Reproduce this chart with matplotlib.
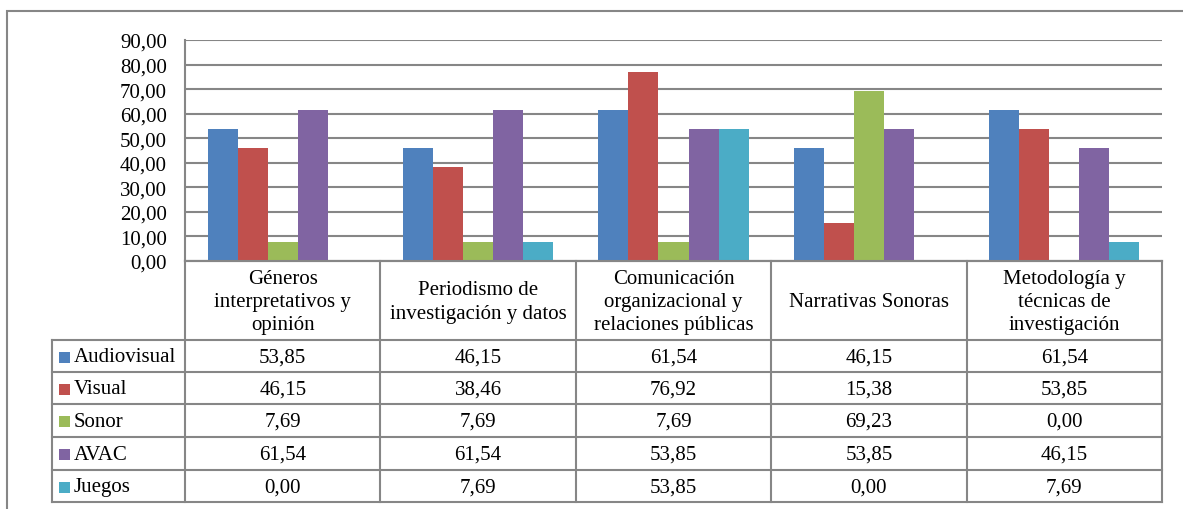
import matplotlib
matplotlib.use("Agg")
import matplotlib.pyplot as plt
from matplotlib.lines import Line2D
from matplotlib.patches import Rectangle
import numpy as np

categories = ["Géneros\ninterpretativos y\nopinión",
              "Periodismo de\ninvestigación y datos",
              "Comunicación\norganizacional y\nrelaciones públicas",
              "Narrativas Sonoras",
              "Metodología y\ntécnicas de\ninvestigación"]
series_names = ["Audiovisual", "Visual", "Sonor", "AVAC", "Juegos"]
audiovisual = [53.85, 46.15, 61.54, 46.15, 61.54]
visual = [46.15, 38.46, 76.92, 15.38, 53.85]
sonor = [7.69, 7.69, 7.69, 69.23, 0.00]
avac = [61.54, 61.54, 53.85, 53.85, 46.15]
juegos = [0.00, 7.69, 53.85, 0.00, 7.69]
series_values = [audiovisual, visual, sonor, avac, juegos]
colors = ["#4F81BD", "#C0504D", "#9BBB59", "#8064A2", "#4BACC6"]

plt.rcParams['font.family'] = ['Liberation Serif', 'DejaVu Serif']
FS = 15
GRID = "#868686"

W, H = 1183, 510
fig = plt.figure(figsize=(W / 100, H / 100), dpi=100)

def fx(px):
    return px / W

def fy(py):
    return 1 - py / H

# outer frame
fig.add_artist(Rectangle((fx(7), fy(530)), fx(1200) - fx(7), fy(12) - fy(530),
                         transform=fig.transFigure, fill=False, edgecolor=GRID, lw=1.5))

left, right, top, bottom = 185, 1162, 41, 262
ax = fig.add_axes([fx(left), fy(bottom), fx(right) - fx(left), fy(top) - fy(bottom)])

n = len(series_names)
bw = 1 / 6.5
x = np.arange(len(categories))
for j, (vals, c) in enumerate(zip(series_values, colors)):
    ax.bar(x + (j - (n - 1) / 2) * bw, vals, width=bw, color=c, zorder=3, linewidth=0)

ax.set_xlim(-0.5, len(categories) - 0.5)
ax.set_ylim(0, 90)
ax.set_yticks(np.arange(0, 91, 10))
ax.set_yticklabels([f"{v:.2f}".replace(".", ",") for v in np.arange(0, 91, 10)], fontsize=FS)
ax.tick_params(axis='y', length=0, pad=13)
ax.set_xticks([])
ax.yaxis.grid(True, color=GRID, lw=1.5, zorder=0)
for s in ["top", "right"]:
    ax.spines[s].set_visible(False)
ax.spines["left"].set_color(GRID)
ax.spines["left"].set_linewidth(1.5)
ax.spines["bottom"].set_color(GRID)
ax.spines["bottom"].set_linewidth(1.5)

# table
fig.canvas.draw()
col_edges = [ax.transData.transform((b, 0))[0] for b in np.arange(-0.5, len(categories), 1.0)]
header_top, header_bot = 262, 341
row_edges = [341, 373, 405, 438, 471, 503]
tab_left = 52

def hline(x0, x1, y):
    fig.add_artist(Line2D([fx(x0), fx(x1)], [fy(y), fy(y)], transform=fig.transFigure,
                          color=GRID, lw=1.5))

def vline(x0, y0, y1):
    fig.add_artist(Line2D([fx(x0), fx(x0)], [fy(y0), fy(y1)], transform=fig.transFigure,
                          color=GRID, lw=1.5))

hline(col_edges[0], col_edges[-1], header_top)
for y in row_edges:
    hline(tab_left, col_edges[-1], y)
for cx in col_edges:
    vline(cx, header_top, row_edges[-1])
vline(tab_left, row_edges[0], row_edges[-1])

for i, cat in enumerate(categories):
    cx = (col_edges[i] + col_edges[i + 1]) / 2
    fig.text(fx(cx), fy((header_top + header_bot) / 2 + 1), cat, ha='center', va='center',
             fontsize=FS, linespacing=1.3)

for j, (name, vals, c) in enumerate(zip(series_names, series_values, colors)):
    cy = (row_edges[j] + row_edges[j + 1]) / 2 + 1
    fig.add_artist(Rectangle((fx(59), fy(cy + 5.5)), fx(11), 11 / H, transform=fig.transFigure,
                             facecolor=c, edgecolor='none'))
    fig.text(fx(74), fy(cy), name, ha='left', va='center', fontsize=FS)
    for i, v in enumerate(vals):
        cx = (col_edges[i] + col_edges[i + 1]) / 2
        fig.text(fx(cx), fy(cy), f"{v:.2f}".replace(".", ","), ha='center', va='center', fontsize=FS)

fig.savefig("out.png", dpi=100)
